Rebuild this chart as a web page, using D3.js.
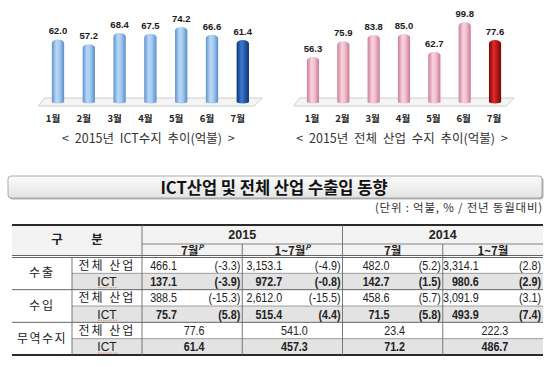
<!DOCTYPE html>
<html>
<head>
<meta charset="utf-8">
<script src="https://cdn.jsdelivr.net/npm/d3@7"></script>
<style>
html, body { margin: 0; padding: 0; background: #fff; }
svg { display: block; font-family: "Liberation Sans", "Noto Sans CJK KR", sans-serif; }
</style>
</head>
<body>
<svg id="chart" width="554" height="367"></svg>
<script>
// bar charts
const months = ['1월', '2월', '3월', '4월', '5월', '6월', '7월'];
const ictBalance = [62.0, 57.2, 68.4, 67.5, 74.2, 66.6, 61.4];
const totalBalance = [56.3, 75.9, 83.8, 85.0, 62.7, 99.8, 77.6];

// table
const years = ['2015', '2014'];
const periods = ['7월', '1~7월', '7월', '1~7월'];
const prelim = [true, true, false, false];
const groups = ['수출', '수입', '무역수지'];
const subRows = ['전체 산업', 'ICT'];
const exportTotal = [[466.1, -3.3], [3153.1, -4.9], [482.0, 5.2], [3314.1, 2.8]];
const exportICT = [[137.1, -3.9], [972.7, -0.8], [142.7, 1.5], [980.6, 2.9]];
const importTotal = [[388.5, -15.3], [2612.0, -15.5], [458.6, 5.7], [3091.9, 3.1]];
const importICT = [[75.7, 5.8], [515.4, 4.4], [71.5, 5.8], [493.9, 7.4]];
const balanceTotal = [77.6, 541.0, 23.4, 222.3];
const balanceICT = [61.4, 457.3, 71.2, 486.7];

const svg = d3.select('#chart');
const defs = svg.append('defs');
const kr = '"Noto Sans CJK KR", sans-serif';

function addGradient(id, stops) {
    const g = defs.append('linearGradient').attr('id', id)
        .attr('x1', 0).attr('x2', 1).attr('y1', 0).attr('y2', 0);
    stops.forEach(s => g.append('stop').attr('offset', s[0]).attr('stop-color', s[1]));
}
addGradient('blueLight', [['0%', '#5d92d0'], ['35%', '#b8d7f5'], ['60%', '#a9cdf0'], ['100%', '#5a8ecb']]);
addGradient('blueDark', [['0%', '#0e3579'], ['40%', '#3b7ad0'], ['100%', '#0d3377']]);
addGradient('pinkLight', [['0%', '#cc7f97'], ['38%', '#f9d3de'], ['62%', '#f2c0cf'], ['100%', '#c97a93']]);
addGradient('redDark', [['0%', '#7c0707'], ['40%', '#e02b2b'], ['100%', '#780606']]);

const base = 102;

function barChart(values, range, pxPer100, fill, lastFill, labelShift, caption) {
    const g = svg.append('g');
    const x = d3.scaleBand().domain(months).range(range).paddingInner(0.6).paddingOuter(0.3);
    const y = d3.scaleLinear().domain([0, 100]).range([base, base - pxPer100]);
    const r0 = range[0], r1 = range[1];

    // floor
    g.append('path')
        .attr('d', `M${r0 - 4},${base + 4} L${r1 - 4},${base + 4} L${r1 + 4},${base - 4} L${r0 + 1.5},${base - 4} Z`)
        .attr('fill', '#f5f5f5').attr('stroke', '#c4c4c4').attr('stroke-width', 0.8);

    const bw = x.bandwidth();
    const ry = 3.5;
    g.selectAll('.bar').data(values).enter().append('path')
        .attr('class', 'bar')
        .attr('d', (d, i) => {
            const x0 = x(months[i]), top = y(d);
            return `M${x0},${base} L${x0},${top + ry} A${bw / 2},${ry} 0 0 1 ${x0 + bw},${top + ry} L${x0 + bw},${base} A${bw / 2},1.5 0 0 1 ${x0},${base} Z`;
        })
        .attr('fill', (d, i) => i === values.length - 1 ? `url(#${lastFill})` : `url(#${fill})`);

    g.selectAll('.val').data(values).enter().append('text')
        .attr('x', (d, i) => x(months[i]) + bw / 2)
        .attr('y', d => y(d) - 5)
        .attr('text-anchor', 'middle')
        .attr('font-size', 9.5).attr('font-weight', 'bold').attr('fill', '#1a1a1a')
        .text(d => d.toFixed(1));

    g.selectAll('.month').data(months).enter().append('text')
        .attr('x', d => x(d) + bw / 2 + labelShift)
        .attr('y', 122)
        .attr('text-anchor', 'middle')
        .attr('font-family', kr).attr('font-size', 9.5).attr('font-weight', 'bold').attr('fill', '#222')
        .text(d => d);

    g.append('text')
        .attr('x', (r0 + r1) / 2 - 2).attr('y', 143)
        .attr('text-anchor', 'middle')
        .attr('font-family', kr).attr('font-size', 12.5).attr('fill', '#333')
        .attr('word-spacing', 3)
        .text(caption);
}

barChart(ictBalance, [42.6, 258.2], 101, 'blueLight', 'blueDark', -5, '< 2015년  ICT수지  추이(억불)  >');
barChart(totalBalance, [297.8, 510.2], 80, 'pinkLight', 'redDark', -1, '< 2015년  전체  산업  수지  추이(억불)  >');

// title box
defs.append('linearGradient').attr('id', 'titleFill').attr('x1', 0).attr('x2', 0).attr('y1', 0).attr('y2', 1)
    .selectAll('stop').data([['0%', '#fbfbfb'], ['100%', '#e4e4e4']]).enter().append('stop')
    .attr('offset', d => d[0]).attr('stop-color', d => d[1]);
svg.append('rect').attr('x', 9.5).attr('y', 177.5).attr('width', 534).attr('height', 22).attr('rx', 3)
    .attr('fill', '#b5b5b5');
svg.append('rect').attr('x', 8).attr('y', 176).attr('width', 534).attr('height', 22).attr('rx', 3)
    .attr('fill', 'url(#titleFill)').attr('stroke', '#9a9a9a').attr('stroke-width', 0.8);
svg.append('text').attr('x', 274).attr('y', 193.5).attr('text-anchor', 'middle')
    .attr('font-family', kr).attr('font-size', 16.5).attr('font-weight', 'bold').attr('fill', '#111')
    .text('ICT산업 및 전체 산업 수출입 동향');
svg.append('text').attr('x', 543).attr('y', 211.5).attr('text-anchor', 'end')
    .attr('font-family', kr).attr('font-size', 11.5).attr('fill', '#333')
    .attr('letter-spacing', 0.8)
    .text('(단위 : 억불, % / 전년 동월대비)');

// table
const tL = 12, tR = 543, c1 = 72, c2 = 142;
const hTop = 225, hMid = 244, hBot = 256, bTop = 257, bBot = 355;
const col = d3.scaleBand().domain(d3.range(4)).range([c2, tR]);
const row = d3.scaleBand().domain(d3.range(6)).range([bTop, bBot]);
const numEnd = [35, 40, 47, 36];
const squeeze = 0.86;

const rows = [
    { sub: subRows[0], vals: exportTotal, bold: false },
    { sub: subRows[1], vals: exportICT, bold: true },
    { sub: subRows[0], vals: importTotal, bold: false },
    { sub: subRows[1], vals: importICT, bold: true },
    { sub: subRows[0], vals: balanceTotal, bold: false },
    { sub: subRows[1], vals: balanceICT, bold: true }
];
const t = svg.append('g');
const rh = row.bandwidth();

t.append('rect').attr('x', tL).attr('y', hTop).attr('width', tR - tL).attr('height', hBot - hTop).attr('fill', '#f3f3f3');
t.selectAll('.shade').data(rows.filter(r => r.bold)).enter().append('rect')
    .attr('x', c1).attr('y', d => row(rows.indexOf(d))).attr('width', tR - c1).attr('height', rh)
    .attr('fill', '#e3e3e3');

function hline(x1, x2, yy, color, w) {
    t.append('line').attr('x1', x1).attr('x2', x2).attr('y1', yy).attr('y2', yy).attr('stroke', color).attr('stroke-width', w);
}
function vline(xx, y1, y2) {
    t.append('line').attr('x1', xx).attr('x2', xx).attr('y1', y1).attr('y2', y2).attr('stroke', '#6a6a6a').attr('stroke-width', 0.9);
}
hline(tL, tR, hTop, '#2a2a2a', 2);
hline(c2, tR, hMid, '#777', 0.9);
hline(tL, tR, hBot - 0.5, '#555', 0.9);
hline(tL, tR, bTop + 0.5, '#555', 0.9);
[1, 3, 5].forEach(i => hline(c1, tR, row(i), '#888', 0.8));
[2, 4].forEach(i => hline(tL, tR, row(i), '#555', 0.9));
hline(tL, tR, bBot, '#2a2a2a', 2);
vline(c2, hTop, bBot);
vline(col(2), hTop, bBot);
vline(col(1), hMid, bBot);
vline(col(3), hMid, bBot);
vline(c1, bTop, bBot);

// header texts
t.append('text').attr('x', 57).attr('y', 244).attr('text-anchor', 'middle')
    .attr('font-family', kr).attr('font-size', 12.5).attr('font-weight', 'bold').attr('fill', '#222').text('구');
t.append('text').attr('x', 97).attr('y', 244).attr('text-anchor', 'middle')
    .attr('font-family', kr).attr('font-size', 12.5).attr('font-weight', 'bold').attr('fill', '#222').text('분');
t.selectAll('.year').data(years).enter().append('text')
    .attr('x', (d, i) => col(i * 2) + col.bandwidth())
    .attr('y', 239).attr('text-anchor', 'middle')
    .attr('font-size', 12.5).attr('font-weight', 'bold').attr('fill', '#222').text(d => d);
const per = t.selectAll('.per').data(periods).enter().append('text')
    .attr('x', (d, i) => col(i) + col.bandwidth() / 2)
    .attr('y', 254.5).attr('text-anchor', 'middle')
    .attr('font-family', kr).attr('font-size', 11.5).attr('font-weight', 'bold').attr('fill', '#222');
per.append('tspan').text(d => d);
per.filter((d, i) => prelim[i]).append('tspan')
    .attr('dy', -5).attr('font-size', 7.5).attr('font-style', 'italic').text('P');

// row labels
t.selectAll('.grp').data(groups).enter().append('text')
    .attr('x', (c1 + tL) / 2).attr('y', (d, i) => row(i * 2) + rh + 4)
    .attr('text-anchor', 'middle')
    .attr('font-family', kr).attr('font-size', 12).attr('fill', '#222')
    .attr('letter-spacing', (d) => d.length > 2 ? 1.5 : 2)
    .text(d => d);
t.selectAll('.sub').data(rows).enter().append('text')
    .attr('x', (c1 + c2) / 2).attr('y', (d, i) => row(i) + rh / 2 + 4.5)
    .attr('text-anchor', 'middle')
    .attr('font-family', d => d.bold ? '"Liberation Sans", sans-serif' : kr)
    .attr('font-size', 12).attr('fill', '#222')
    .attr('letter-spacing', d => d.bold ? 0 : 2)
    .text(d => d.sub);
// spell-check underline under ICT
t.selectAll('.ul').data(rows.filter(r => r.bold)).enter().append('line')
    .attr('x1', 98).attr('x2', 117)
    .attr('y1', d => row(rows.indexOf(d)) + rh - 2).attr('y2', d => row(rows.indexOf(d)) + rh - 2)
    .attr('stroke', '#d08060').attr('stroke-width', 0.8).attr('stroke-dasharray', '1.5,1');

// values (narrow face, like the original)
const fmtNum = d3.format(',.1f');
const fmtPct = v => '(' + (v < 0 ? '-' : '') + Math.abs(v).toFixed(1) + ')';
function cellText(xx, yy, anchor, bold, str) {
    t.append('text')
        .attr('transform', `translate(${xx},${yy}) scale(${squeeze},1)`)
        .attr('text-anchor', anchor)
        .attr('font-size', 12.5).attr('font-weight', bold ? 'bold' : 'normal').attr('fill', '#222')
        .text(str);
}
rows.forEach((r, ri) => {
    const yy = row(ri) + rh / 2 + 4.5;
    r.vals.forEach((v, ci) => {
        if (Array.isArray(v)) {
            cellText(col(ci) + numEnd[ci], yy, 'end', r.bold, fmtNum(v[0]));
            cellText(col(ci) + col.bandwidth() - 2, yy, 'end', r.bold, fmtPct(v[1]));
        } else {
            cellText(col(ci) + col.bandwidth() / 2 + 2, yy, 'middle', r.bold, fmtNum(v));
        }
    });
});
</script>
</body>
</html>
